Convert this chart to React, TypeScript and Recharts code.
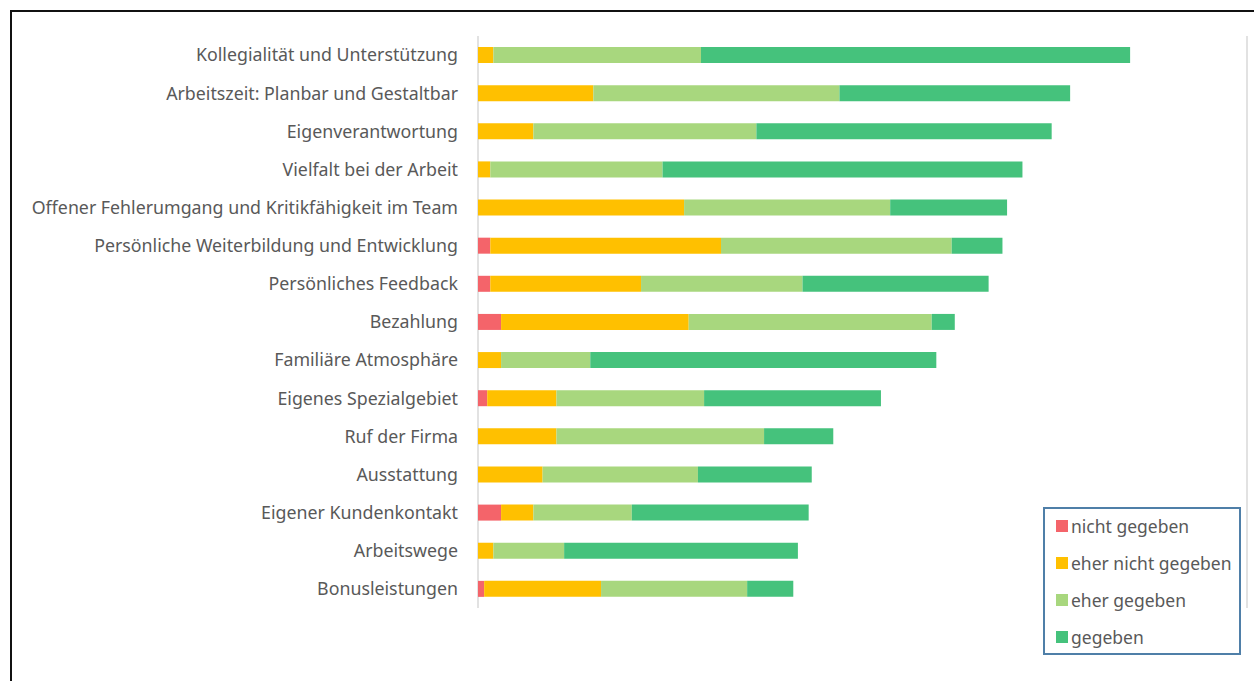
import React from "react";
import { BarChart, Bar, XAxis, YAxis, CartesianGrid, Legend } from "recharts";

const categories = [
  "Kollegialität und Unterstützung",
  "Arbeitszeit: Planbar und Gestaltbar",
  "Eigenverantwortung",
  "Vielfalt bei der Arbeit",
  "Offener Fehlerumgang und Kritikfähigkeit im Team",
  "Persönliche Weiterbildung und Entwicklung",
  "Persönliches Feedback",
  "Bezahlung",
  "Familiäre Atmosphäre",
  "Eigenes Spezialgebiet",
  "Ruf der Firma",
  "Ausstattung",
  "Eigener Kundenkontakt",
  "Arbeitswege",
  "Bonusleistungen",
];

const nichtGegeben = [0, 0, 0, 0, 0, 0.8, 0.8, 1.5, 0, 0.6, 0, 0, 1.5, 0, 0.4];
const eherNichtGegeben = [1.0, 7.5, 3.6, 0.8, 13.4, 15.0, 9.8, 12.2, 1.5, 4.5, 5.1, 4.2, 2.1, 1.0, 7.6];
const eherGegeben = [13.5, 16.0, 14.5, 11.2, 13.4, 15.0, 10.5, 15.8, 5.8, 9.6, 13.5, 10.1, 6.4, 4.6, 9.5];
const gegeben = [27.9, 15.0, 19.2, 23.4, 7.6, 3.3, 12.1, 1.5, 22.5, 11.5, 4.5, 7.4, 11.5, 15.2, 3.0];

const xTicks = [0, 10, 20, 30, 40, 50];

const series = [
  { key: "nicht", name: "nicht gegeben", color: "#F4646A" },
  { key: "eherNicht", name: "eher nicht gegeben", color: "#FFC000" },
  { key: "eher", name: "eher gegeben", color: "#A8D77E" },
  { key: "gegeben", name: "gegeben", color: "#45C27C" },
];

const data = categories.map((name, i) => ({
  name,
  nicht: nichtGegeben[i],
  eherNicht: eherNichtGegeben[i],
  eher: eherGegeben[i],
  gegeben: gegeben[i],
}));

const font = "'Noto Sans', sans-serif";

// legend box drawn like the Excel one (framed, bottom right)
const LegendBox = () => (
  <div
    style={{
      border: "2px solid #4F7FA8",
      padding: "0 0 0 11px",
      width: 183,
      height: 144,
      background: "#fff",
      fontFamily: font,
      fontSize: 17.5,
      color: "#595959",
      textAlign: "left",
    }}
  >
    <div style={{ marginTop: -2 }}>
      {series.map((s) => (
        <div key={s.key} style={{ display: "flex", alignItems: "center", height: 37, whiteSpace: "nowrap" }}>
          <span style={{ width: 12, height: 12, background: s.color, marginRight: 3, display: "inline-block" }} />
          <span>{s.name}</span>
        </div>
      ))}
    </div>
  </div>
);

export default function App() {
  return (
    <div
      style={{
        position: "fixed",
        left: 0,
        top: 0,
        width: 1254,
        height: 681,
        overflow: "hidden",
        background: "#fff",
      }}
    >
      <div
        style={{
          position: "absolute",
          left: 10,
          top: 10,
          width: 1300,
          height: 720,
          border: "2px solid #111",
        }}
      />
      <div style={{ position: "absolute", left: 0, top: 0 }}>
        <BarChart
          width={1254}
          height={681}
          data={data}
          layout="vertical"
          margin={{ top: 36, right: 7, bottom: 73, left: 0 }}
          barSize={16}
        >
          <CartesianGrid horizontal={false} stroke="#D9D9D9" strokeWidth={1.5} />
          <XAxis
            type="number"
            domain={[0, 50]}
            ticks={xTicks}
            axisLine={false}
            tickLine={false}
            tick={false}
            height={0}
          />
          <YAxis
            type="category"
            dataKey="name"
            width={478}
            axisLine={false}
            tickLine={false}
            tickMargin={14}
            interval={0}
            tick={{ fill: "#595959", fontSize: 17.8, fontFamily: font }}
          />
          <Legend
            layout="vertical"
            align="center"
            verticalAlign="middle"
            content={() => <LegendBox />}
            wrapperStyle={{ position: "absolute", left: 1043, top: 507, width: 200 }}
          />
          {series.map((s) => (
            <Bar
              key={s.key}
              dataKey={s.key}
              name={s.name}
              stackId="a"
              fill={s.color}
              isAnimationActive={false}
            />
          ))}
        </BarChart>
      </div>
    </div>
  );
}
